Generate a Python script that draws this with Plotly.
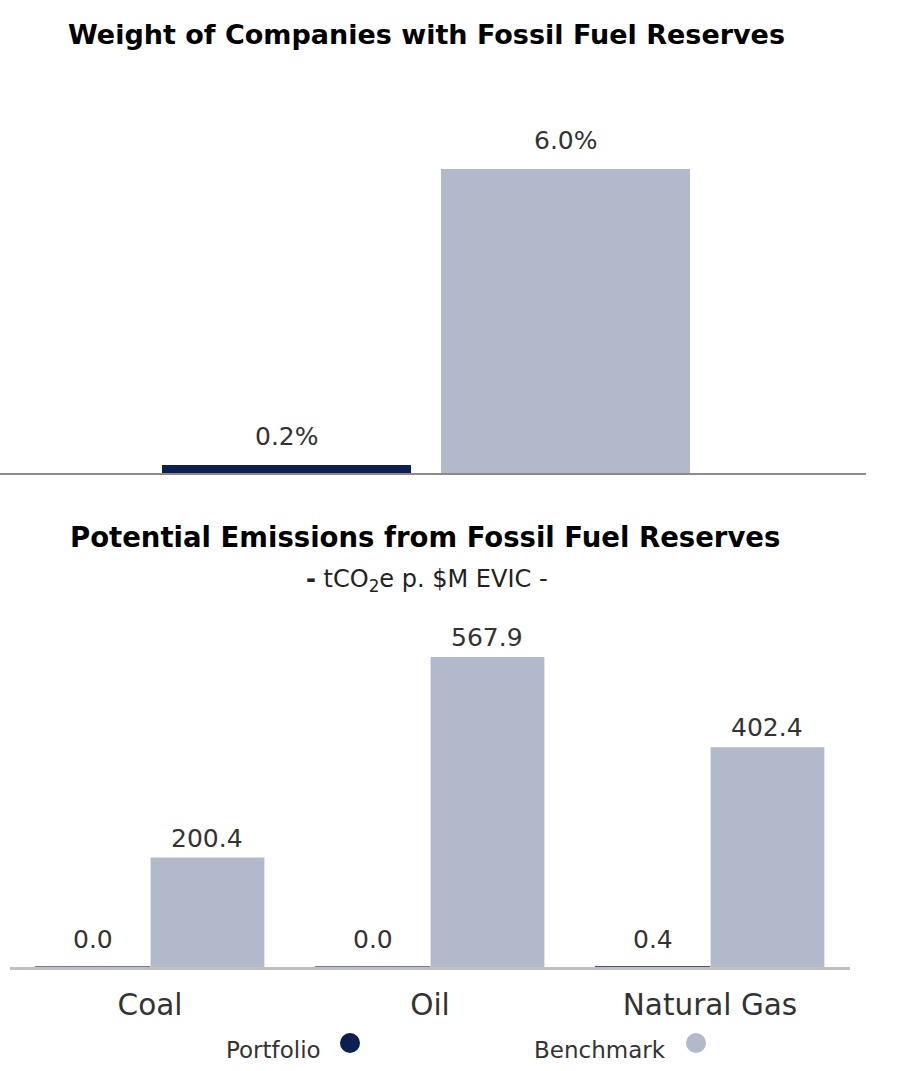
import plotly.graph_objects as go

W, H = 912, 1071

# ---------------- data ----------------
series_names = ["Portfolio", "Benchmark"]
series_colors = ["#0b1f51", "#b2b9ca"]

weight_category = ["Weight"]
weight_portfolio = [0.16]
weight_benchmark = [6.0]

fuel_categories = ["Coal", "Oil", "Natural Gas"]
emis_portfolio = [0.01, 0.01, 0.4]
emis_benchmark = [200.4, 567.9, 402.4]

title_top = "Weight of Companies with Fossil Fuel Reserves"
title_bottom = "Potential Emissions from Fossil Fuel Reserves"
subtitle_bottom = "<b>-</b> tCO<sub>2</sub>e p. $M EVIC -"

FONT = "DejaVu Sans"
LABEL_COLOR = "#333333"


def px(x):
    return x / W


def py(y):
    return 1 - y / H


fig = go.Figure()

# ---------------- top chart ----------------
top_width = 0.2926
top_offsets = [-0.3096, 0.0182]
for name, col, vals, off in zip(series_names, series_colors,
                                [weight_portfolio, weight_benchmark], top_offsets):
    fig.add_trace(go.Bar(
        x=list(range(len(weight_category))), y=vals, name=name,
        marker=dict(color=col, line=dict(width=0)),
        width=top_width, offset=off,
        xaxis="x", yaxis="y", showlegend=False, hoverinfo="skip",
    ))

# ---------------- bottom chart ----------------
bottom_gap, bottom_groupgap = 0.179, 0.01
line_cols = ["#3f5380", "#b2b9ca"]
for name, col, lc, vals in zip(series_names, series_colors, line_cols,
                               [emis_portfolio, emis_benchmark]):
    fig.add_trace(go.Bar(
        x=list(range(len(fuel_categories))), y=vals, name=name,
        marker=dict(color=col, line=dict(width=1.5 if name == "Portfolio" else 0, color=lc)),
        xaxis="x2", yaxis="y2", showlegend=False, hoverinfo="skip",
    ))

annotations = []

# value labels - top
for i, cat in enumerate(weight_category):
    for vals, off in zip([weight_portfolio, weight_benchmark], top_offsets):
        annotations.append(dict(
            x=i + off + top_width / 2, y=vals[i], xref="x", yref="y",
            text=f"{vals[i]:.1f}%", showarrow=False, yanchor="bottom", yshift=12,
            font=dict(family=FONT, size=25, color=LABEL_COLOR),
        ))

# value labels - bottom
slot = (1 - bottom_gap) / 2
for i, cat in enumerate(fuel_categories):
    for k, vals in enumerate([emis_portfolio, emis_benchmark]):
        center = i - slot / 2 + k * slot
        annotations.append(dict(
            x=center, y=vals[i], xref="x2", yref="y2",
            text=f"{vals[i]:.1f}", showarrow=False, yanchor="bottom",
            yshift=11 if k == 0 else 3,
            font=dict(family=FONT, size=25, color=LABEL_COLOR),
        ))

# titles
annotations.append(dict(x=px(426), y=py(35), xref="paper", yref="paper", text=f"<b>{title_top}</b>",
                        showarrow=False, xanchor="center", yanchor="middle",
                        font=dict(family=FONT, size=27, color="#000000")))
annotations.append(dict(x=px(425), y=py(537), xref="paper", yref="paper", text=f"<b>{title_bottom}</b>",
                        showarrow=False, xanchor="center", yanchor="middle",
                        font=dict(family=FONT, size=27.5, color="#000000")))
annotations.append(dict(x=px(427), y=py(580), xref="paper", yref="paper", text=subtitle_bottom,
                        showarrow=False, xanchor="center", yanchor="middle",
                        font=dict(family=FONT, size=24, color="#222222")))

# legend (text left of the symbol, as in the reference)
legend_text_right = [323, 668]
legend_dot_x = [350, 696]
shapes = []
for name, col, tx, dx in zip(series_names, series_colors, legend_text_right, legend_dot_x):
    annotations.append(dict(x=px(tx), y=py(1050), xref="paper", yref="paper", text=name,
                            showarrow=False, xanchor="right", yanchor="middle",
                            font=dict(family=FONT, size=23, color=LABEL_COLOR)))
    shapes.append(dict(type="circle", xref="paper", yref="paper",
                       xsizemode="pixel", ysizemode="pixel",
                       xanchor=px(dx), yanchor=py(1043),
                       x0=-10, x1=10, y0=-10, y1=10,
                       fillcolor=col, line=dict(width=0)))

fig.update_layout(
    width=W, height=H,
    margin=dict(l=0, r=0, t=0, b=0),
    paper_bgcolor="white", plot_bgcolor="white",
    barmode="group", bargap=bottom_gap, bargroupgap=bottom_groupgap,
    showlegend=False,
    annotations=annotations, shapes=shapes,
    xaxis=dict(domain=[0, px(866)], range=[-0.5, 0.5176], showgrid=False, zeroline=False,
               showticklabels=False, ticks="", showline=True, linecolor="#8c8c8c", linewidth=1.5,
               fixedrange=True),
    yaxis=dict(domain=[py(473), py(110)], range=[0, 7.164], visible=False, fixedrange=True),
    xaxis2=dict(domain=[px(10), px(850)], range=[-0.5, 2.5], anchor="y2",
                tickmode="array", tickvals=list(range(len(fuel_categories))), ticktext=fuel_categories,
                showgrid=False, zeroline=False, ticks="", showline=True, linecolor="#c0c0c0",
                linewidth=3, tickfont=dict(family=FONT, size=29.5, color=LABEL_COLOR),
                ticklabelstandoff=10, fixedrange=True),
    yaxis2=dict(domain=[py(967), py(620)], range=[0, 635.6], visible=False, anchor="x2",
                fixedrange=True),
    font=dict(family=FONT),
)

fig.write_html("out.html", config={"displayModeBar": False},
               post_script="document.body.style.margin='0';")
